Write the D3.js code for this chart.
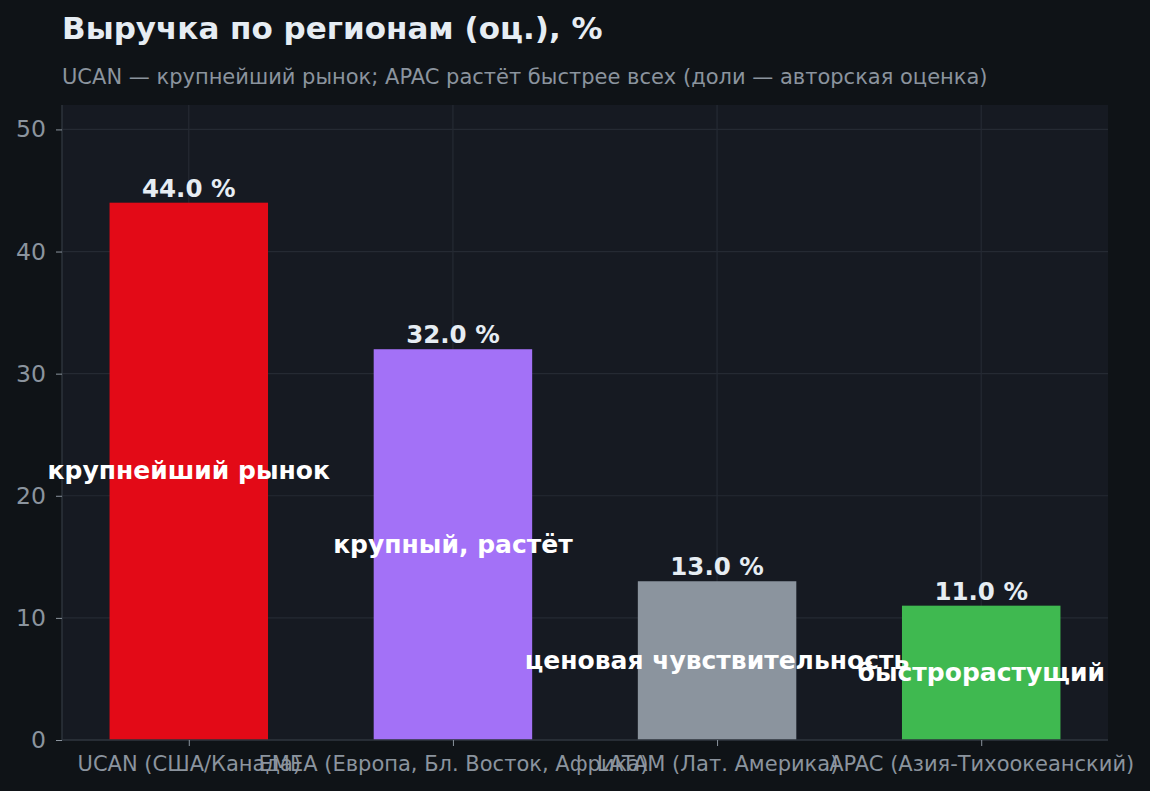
<!DOCTYPE html>
<html><head><meta charset="utf-8">
<script src="https://cdn.jsdelivr.net/npm/d3@7"></script>
<style>html,body{margin:0;padding:0;background:#0f1317;}svg{display:block;}</style>
</head><body>
<svg id="chart" width="1150" height="791"></svg>
<script>
const categories = ["UCAN (США/Канада)", "EMEA (Европа, Бл. Восток, Африка)", "LATAM (Лат. Америка)", "APAC (Азия-Тихоокеанский)"];
const values = [44.0, 32.0, 13.0, 11.0];
const notes = ["крупнейший рынок", "крупный, растёт", "ценовая чувствительность", "быстрорастущий"];
const colors = ["#e30a17", "#a371f7", "#8b949e", "#3fb950"];
const yTicks = [0, 10, 20, 30, 40, 50];
const title = "Выручка по регионам (оц.), %";
const subtitle = "UCAN — крупнейший рынок; APAC растёт быстрее всех (доли — авторская оценка)";

const W = 1150, H = 791;
const m = {left: 62, right: 1108, top: 105, bottom: 740};
const svg = d3.select("#chart");
const font = "DejaVu Sans, sans-serif";

svg.append("rect").attr("width", W).attr("height", H).attr("fill", "#0f1317");
svg.append("rect").attr("x", m.left).attr("y", m.top).attr("width", m.right - m.left).attr("height", m.bottom - m.top).attr("fill", "#161a22");

const x = d3.scaleLinear().domain([-0.48, 3.48]).range([m.left, m.right]);
const y = d3.scaleLinear().domain([0, 52]).range([m.bottom, m.top]);
const bw = x(0.3) - x(-0.3);

// grid
svg.append("g").selectAll("line.h").data(yTicks).join("line")
  .attr("x1", m.left).attr("x2", m.right).attr("y1", d => y(d)).attr("y2", d => y(d))
  .attr("stroke", "#252a33").attr("stroke-width", 1.2);
svg.append("g").selectAll("line.v").data(categories).join("line")
  .attr("x1", (d, i) => x(i)).attr("x2", (d, i) => x(i)).attr("y1", m.top).attr("y2", m.bottom)
  .attr("stroke", "#252a33").attr("stroke-width", 1.2);

// bars
svg.append("g").selectAll("rect").data(values).join("rect")
  .attr("x", (d, i) => x(i) - bw / 2).attr("width", bw)
  .attr("y", d => y(d)).attr("height", d => y(0) - y(d))
  .attr("fill", (d, i) => colors[i]);

// axes
const yAxis = d3.axisLeft(y).tickValues(yTicks).tickSize(6).tickPadding(10).tickFormat(d3.format("d"));
const gy = svg.append("g").attr("transform", `translate(${m.left},0)`).call(yAxis);
gy.select(".domain").attr("stroke", "#2d333b").attr("stroke-width", 1.5).attr("d", `M0,${m.top}V${m.bottom}`);
gy.selectAll(".tick line").attr("stroke", "#8b949e");
gy.selectAll(".tick text").attr("fill", "#8b949e").attr("font-family", font).attr("font-size", 23.5);

const xAxis = d3.axisBottom(x).tickValues([0, 1, 2, 3]).tickSize(6).tickPadding(10).tickFormat(i => categories[i]);
const gx = svg.append("g").attr("transform", `translate(0,${m.bottom})`).call(xAxis);
gx.select(".domain").attr("stroke", "#2d333b").attr("stroke-width", 1.5).attr("d", `M${m.left},0H${m.right}`);
gx.selectAll(".tick line").attr("stroke", "#8b949e");
gx.selectAll(".tick text").attr("fill", "#8b949e").attr("font-family", font).attr("font-size", 21);

// value labels
svg.append("g").selectAll("text").data(values).join("text")
  .attr("x", (d, i) => x(i)).attr("y", d => y(d) - 6)
  .attr("text-anchor", "middle").attr("fill", "#e6edf3")
  .attr("font-family", font).attr("font-weight", "bold").attr("font-size", 24.5)
  .text(d => d.toFixed(1) + " %");

// notes inside
svg.append("g").selectAll("text").data(values).join("text")
  .attr("x", (d, i) => x(i)).attr("y", d => y(d / 2))
  .attr("dy", "0.32em")
  .attr("text-anchor", "middle").attr("fill", "#ffffff")
  .attr("font-family", font).attr("font-weight", "bold").attr("font-size", 25)
  .text((d, i) => notes[i]);

// title
svg.append("text").attr("x", 62).attr("y", 39).attr("fill", "#e6edf3")
  .attr("font-family", font).attr("font-weight", "bold").attr("font-size", 31).text(title);
svg.append("text").attr("x", 62).attr("y", 84).attr("fill", "#8b949e")
  .attr("font-family", font).attr("font-size", 21).text(subtitle);
</script>
</body></html>
